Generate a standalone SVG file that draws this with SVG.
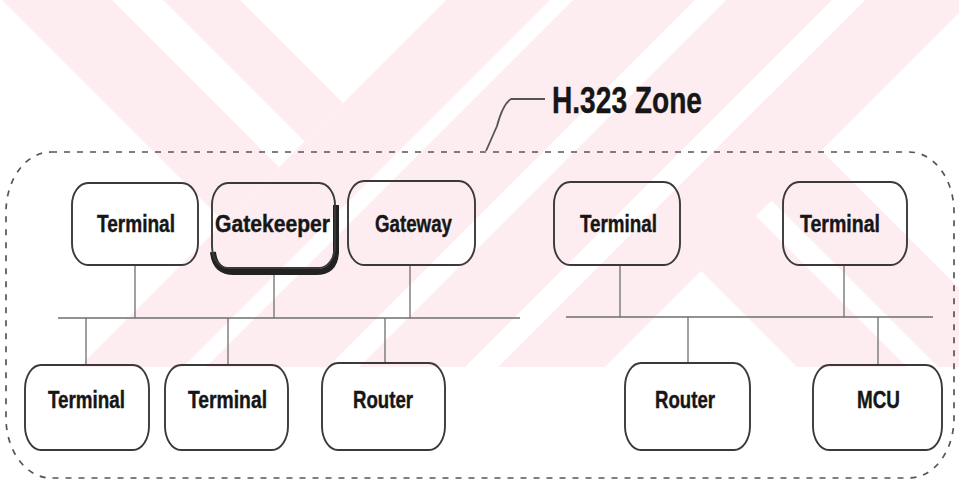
<svg xmlns="http://www.w3.org/2000/svg" width="959" height="487" viewBox="0 0 959 487">
<defs>
<style>
.wm{fill:#fdedf0}
.node{fill:none;stroke:#3a3a3a;stroke-width:1.9}
.lbl{font-family:"Liberation Sans",Arial,sans-serif;font-weight:bold;font-size:23px;fill:#161616;stroke:#161616;stroke-width:0.4}
.conn{stroke:#6e6e6e;stroke-width:1.3;fill:none}
.zone{fill:none;stroke:#555;stroke-width:1.7;stroke-dasharray:6 7}
</style>
<clipPath id="wmclip"><rect x="0" y="0" width="959" height="367"/></clipPath>
</defs>
<rect width="959" height="487" fill="#ffffff"/>
<g id="watermark" clip-path="url(#wmclip)">
<polygon class="wm" points="2,0 112,0 279,167 224,222"/>
<polygon class="wm" points="163,0 240,0 343,103 304.5,141.5"/>
<polygon class="wm" points="446,0 550,0 183,367 79,367"/>
<polygon class="wm" points="573,0 695,0 328,367 206,367"/>
<polygon class="wm" points="726,0 832,0 465,367 359,367"/>
<polygon class="wm" points="865,0 972,0 605,367 498,367"/>
<polygon class="wm" points="702.5,162.5 907,367 797,367 647.5,217.5"/>
<polygon class="wm" points="768,97 1038,367 938,367 718,147"/>
</g>
<g id="zone">
<rect class="zone" x="6" y="152" width="948" height="326" rx="45" ry="60"/>
<path d="M486,151 L497,126 Q503,104 511,99 L545,99" fill="none" stroke="#555" stroke-width="1.8"/>
<text x="552" y="113" font-family="'Liberation Sans',Arial,sans-serif" font-weight="bold" font-size="36" fill="#161616" stroke="#161616" stroke-width="0.4" textLength="150" lengthAdjust="spacingAndGlyphs">H.323 Zone</text>
</g>
<g id="connectors">
<line class="conn" x1="58" y1="318" x2="520" y2="318"/>
<line class="conn" x1="566" y1="317" x2="933" y2="317"/>
<line class="conn" x1="135" y1="265" x2="135" y2="318"/>
<line class="conn" x1="274" y1="275" x2="274" y2="318"/>
<line class="conn" x1="410" y1="265" x2="410" y2="318"/>
<line class="conn" x1="620" y1="265" x2="620" y2="317"/>
<line class="conn" x1="844" y1="265" x2="844" y2="317"/>
<line class="conn" x1="86" y1="318" x2="86" y2="365"/>
<line class="conn" x1="228" y1="318" x2="228" y2="365"/>
<line class="conn" x1="385" y1="318" x2="385" y2="363"/>
<line class="conn" x1="688" y1="317" x2="688" y2="363"/>
<line class="conn" x1="878" y1="317" x2="878" y2="365"/>
</g>
<g id="n_terminal1">
<rect class="node" x="72" y="183" width="126" height="82" rx="16" ry="22"/>
<text class="lbl" x="97" y="232" textLength="78" lengthAdjust="spacingAndGlyphs">Terminal</text>
</g>
<g id="n_gatekeeper">
<path d="M213,252 Q215,272 234,272 L316,272 Q335,272 336,252 L336,205" fill="none" stroke="#222" stroke-width="6"/>
<rect class="node" x="212" y="183" width="123" height="85" rx="16" ry="22" stroke-width="2.2"/>
<text class="lbl" x="215" y="232" textLength="115" lengthAdjust="spacingAndGlyphs">Gatekeeper</text>
</g>
<g id="n_gateway">
<rect class="node" x="348" y="181" width="127" height="84" rx="16" ry="22"/>
<text class="lbl" x="375" y="232" textLength="77" lengthAdjust="spacingAndGlyphs">Gateway</text>
</g>
<g id="n_terminal2">
<rect class="node" x="554" y="182" width="126" height="83" rx="16" ry="22"/>
<text class="lbl" x="580" y="232" textLength="77" lengthAdjust="spacingAndGlyphs">Terminal</text>
</g>
<g id="n_terminal3">
<rect class="node" x="783" y="182" width="124" height="83" rx="16" ry="22"/>
<text class="lbl" x="800" y="232" textLength="80" lengthAdjust="spacingAndGlyphs">Terminal</text>
</g>
<g id="n_terminal4">
<rect class="node" x="25" y="365" width="124" height="85" rx="16" ry="24"/>
<text class="lbl" x="48" y="408" textLength="77" lengthAdjust="spacingAndGlyphs">Terminal</text>
</g>
<g id="n_terminal5">
<rect class="node" x="165" y="365" width="123" height="85" rx="16" ry="24"/>
<text class="lbl" x="188" y="408" textLength="79" lengthAdjust="spacingAndGlyphs">Terminal</text>
</g>
<g id="n_router1">
<rect class="node" x="322" y="363" width="123" height="87" rx="16" ry="24"/>
<text class="lbl" x="353" y="408" textLength="60" lengthAdjust="spacingAndGlyphs">Router</text>
</g>
<g id="n_router2">
<rect class="node" x="625" y="363" width="125" height="87" rx="16" ry="24"/>
<text class="lbl" x="655" y="408" textLength="60" lengthAdjust="spacingAndGlyphs">Router</text>
</g>
<g id="n_mcu">
<rect class="node" x="813" y="365" width="129" height="85" rx="16" ry="24"/>
<text class="lbl" x="857" y="408" textLength="43" lengthAdjust="spacingAndGlyphs">MCU</text>
</g>
</svg>
